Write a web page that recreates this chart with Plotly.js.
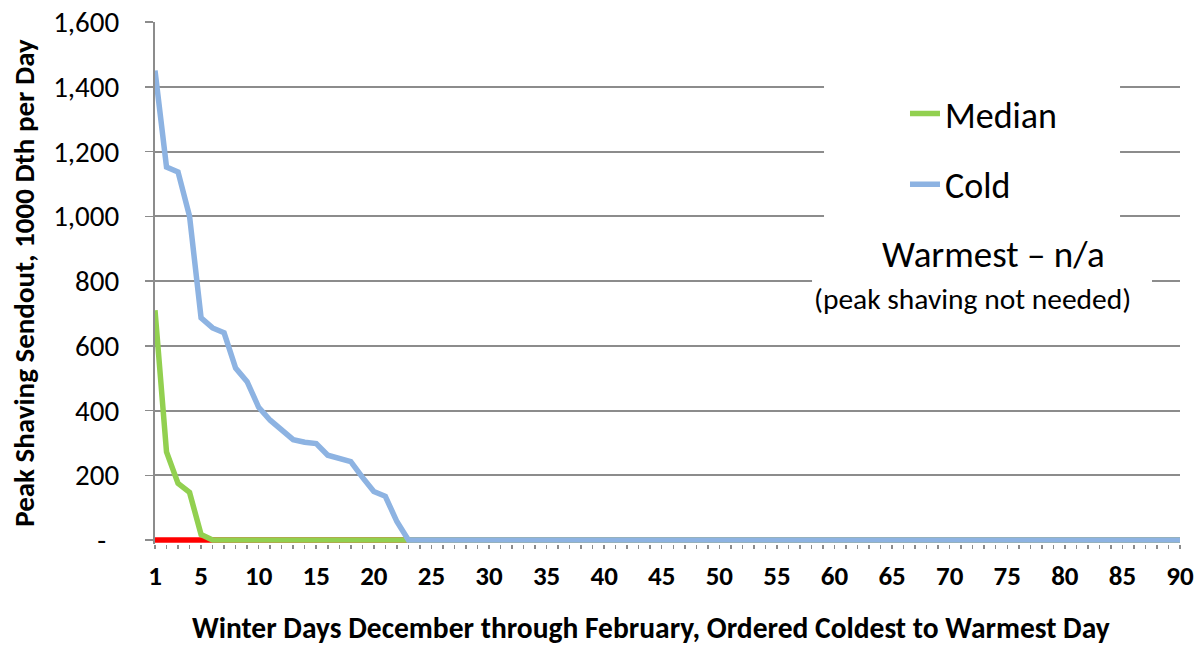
<!DOCTYPE html>
<html>
<head>
<meta charset="utf-8">
<script src="https://cdn.plot.ly/plotly-3.0.1.min.js"></script>
<style>html,body{margin:0;padding:0;background:#fff;} #chart{width:1197px;height:646px;}</style>
</head>
<body>
<div id="chart"></div>
<script>
// Winter days, ordered coldest to warmest (1..90)
const days = Array.from({length: 90}, (_, i) => i + 1);

// Peak shaving sendout, 1000 Dth per day
const coldHead   = [1450, 1152, 1137, 1000, 686, 655, 640, 531, 489, 410, 370, 341, 310, 302, 298, 262, 250, 242, 194, 150, 135, 57];
const medianHead = [710, 272, 175, 147, 17];
const warmestHead = [];

function padToSeason(head) {
  const out = head.slice();
  while (out.length < days.length) out.push(0);
  return out;
}
const cold = padToSeason(coldHead);
const median = padToSeason(medianHead);
const warmest = padToSeason(warmestHead);

const yTickVals = [0, 200, 400, 600, 800, 1000, 1200, 1400, 1600];
const yTickText = ['-\u00a0\u00a0', '200', '400', '600', '800', '1,000', '1,200', '1,400', '1,600'];
const xTickVals = [1, 5, 10, 15, 20, 25, 30, 35, 40, 45, 50, 55, 60, 65, 70, 75, 80, 85, 90];

const gridColor = '#8c8c8c';
const fontFam = 'Carlito, Calibri, "Open Sans", "Liberation Sans", Arial, sans-serif';

// plot area: 1600 at y=22, 0 at y=540 -> 0.32375 px per unit; extend 4px below 0 so the zero lines are not clipped
const yMin = -4 / 0.32375;

const traces = [
  {x: days, y: warmest, name: 'Warmest', type: 'scatter', mode: 'lines', cliponaxis: false,
   line: {color: '#ff0000', width: 5.5}, showlegend: false},
  {x: days, y: median, name: 'Median', type: 'scatter', mode: 'lines', cliponaxis: false,
   line: {color: '#92d050', width: 5.5}, legendgroup: 'm'},
  {x: days, y: cold, name: 'Cold', type: 'scatter', mode: 'lines', cliponaxis: false,
   line: {color: '#8db3e2', width: 5.5}, legendgroup: 'c'}
];

const layout = {
  width: 1197, height: 646,
  margin: {l: 155, r: 17, t: 22, b: 102},
  paper_bgcolor: '#ffffff', plot_bgcolor: '#ffffff',
  font: {family: fontFam, color: '#000'},
  xaxis: {
    range: [1, 90], tickmode: 'array', tickvals: xTickVals,
    ticks: 'outside', ticklen: 4, tickwidth: 1.5, tickcolor: gridColor,
    minor: {dtick: 1, tick0: 1, ticks: 'outside', ticklen: 4, tickwidth: 1.5, tickcolor: gridColor, showgrid: false},
    showgrid: false, zeroline: false, showline: false,
    tickfont: {size: 27, family: fontFam, weight: 'bold'},
    ticklabelstandoff: 4,
    title: {text: '<b>Winter Days December through February, Ordered Coldest to Warmest Day\u00a0\u00a0\u00a0\u00a0\u00a0</b>',
            font: {size: 29.5, family: fontFam}, standoff: 30}
  },
  yaxis: {
    range: [yMin, 1600], tickmode: 'array', tickvals: yTickVals, ticktext: yTickText,
    ticks: 'outside', ticklen: 8, tickwidth: 1.5, tickcolor: gridColor,
    showgrid: true, gridcolor: gridColor, gridwidth: 2,
    zeroline: false, showline: true, linecolor: gridColor, linewidth: 2,
    tickfont: {size: 29, family: fontFam},
    ticklabelstandoff: 20,
    title: {text: '<b>Peak Shaving Sendout, 1000 Dth per Day</b>', font: {size: 29, family: fontFam}, standoff: 10}
  },
  legend: {
    x: 0.7317, y: 0.882, xanchor: 'left', yanchor: 'top',
    bgcolor: 'rgba(255,255,255,0)', borderwidth: 0, traceorder: 'grouped',
    font: {size: 36, family: fontFam}, tracegroupgap: 21, itemwidth: 30
  },
  shapes: [
    {type: 'rect', xref: 'paper', yref: 'paper', x0: 0.6527, x1: 0.9415, y0: 0.57, y1: 0.96,
     fillcolor: '#ffffff', line: {width: 0}, layer: 'above'},
    {type: 'rect', xref: 'paper', yref: 'paper', x0: 0.641, x1: 0.9727, y0: 0.43, y1: 0.57,
     fillcolor: '#ffffff', line: {width: 0}, layer: 'above'}
  ],
  annotations: [
    {xref: 'paper', yref: 'paper', x: 0.818, y: 0.554, text: 'Warmest – n/a', showarrow: false,
     font: {size: 37, family: fontFam}, xanchor: 'center', yanchor: 'middle'},
    {xref: 'paper', yref: 'paper', x: 0.798, y: 0.469, text: '(peak shaving not needed)', showarrow: false,
     font: {size: 29.5, family: fontFam}, xanchor: 'center', yanchor: 'middle'}
  ]
};

Plotly.newPlot('chart', traces, layout, {displayModeBar: false, staticPlot: true});
</script>
</body>
</html>
